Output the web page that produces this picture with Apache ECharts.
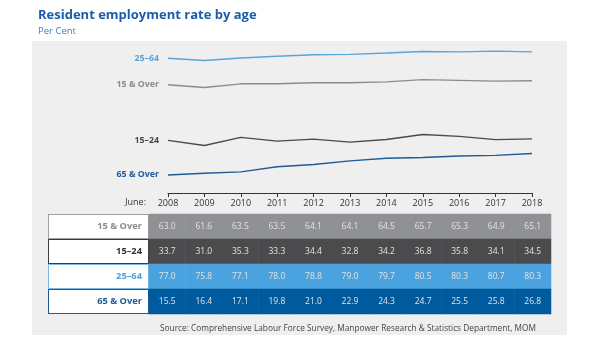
<!DOCTYPE html>
<html>
<head>
<meta charset="utf-8">
<style>html,body{margin:0;padding:0;background:#fff}#c{width:600px;height:341px}</style>
<script src="https://cdn.jsdelivr.net/npm/echarts@6/dist/echarts.min.js"></script>
</head>
<body>
<div id="c"></div>
<script>
var years = ['2008','2009','2010','2011','2012','2013','2014','2015','2016','2017','2018'];
var rowNames = ['15 & Over','15–24','25–64','65 & Over'];
var lineNames = ['25–64','15 & Over','15–24','65 & Over'];
var over15 = [63.0,61.6,63.5,63.5,64.1,64.1,64.5,65.7,65.3,64.9,65.1];
var age1524 = [33.7,31.0,35.3,33.3,34.4,32.8,34.2,36.8,35.8,34.1,34.5];
var age2564 = [77.0,75.8,77.1,78.0,78.8,79.0,79.7,80.5,80.3,80.7,80.3];
var over65 = [15.5,16.4,17.1,19.8,21.0,22.9,24.3,24.7,25.5,25.8,26.8];

var FONT = 'Open Sans';
var rows = [over15, age1524, age2564, over65];
var rowFill = ['#8f9194','#4b4b4e','#4aa2de','#005a9e'];
var rowBorder = ['#a0a0a0','#3c3c3c','#7cb9e6','#1e5a96'];
var rowText = ['#8c8c8c','#333333','#4aa0dc','#1f5a96'];

var lineSeries = [
  {name: lineNames[0], data: age2564, color: '#5ba4da'},
  {name: lineNames[1], data: over15, color: '#8c8c8c'},
  {name: lineNames[2], data: age1524, color: '#4a4a4a'},
  {name: lineNames[3], data: over65, color: '#1f5a96'}
].map(function (s) {
  return {
    type: 'line', xAxisIndex: 0, yAxisIndex: 0, symbol: 'circle', symbolSize: 0.01, showSymbol: true,
    silent: true, clip: false,
    itemStyle: {color: s.color, borderWidth: 0},
    lineStyle: {color: s.color, width: 1.4},
    label: {show: false},
    data: s.data.map(function (v, i) {
      return i === 0 ? {value: v, label: {show: true, position: 'left', distance: 9, formatter: s.name,
        color: s.color, fontFamily: FONT, fontSize: 8.8, fontWeight: 'bold'}} : v;
    })
  };
});

var heatData = [];
rows.forEach(function (r, ri) {
  r.forEach(function (v, ci) {
    heatData.push({value: [ci, ri, v], itemStyle: {color: rowFill[ri]}});
  });
});

var rich = {};
rowNames.forEach(function (n, i) {
  rich['r' + i] = {width: 93, height: 23, align: 'right', padding: [0, 6, 0, 0],
    backgroundColor: '#ffffff', borderColor: rowBorder[i], borderWidth: 1,
    color: rowText[i], fontFamily: FONT, fontSize: 9.3, fontWeight: 'bold'};
});

var chart = echarts.init(document.getElementById('c'), null, {renderer: 'canvas'});
chart.setOption({
  animation: false,
  backgroundColor: '#ffffff',
  textStyle: {fontFamily: FONT},
  graphic: [{type: 'rect', z: -10, silent: true, shape: {x: 32, y: 41, width: 535, height: 294}, style: {fill: '#efefef'}}],
  title: [
    {text: 'Resident employment rate by age', left: 33, top: 4,
     textStyle: {fontFamily: FONT, fontSize: 13, fontWeight: 'bold', color: '#1a5ea8'}},
    {text: 'Per Cent', left: 33, top: 21,
     textStyle: {fontFamily: FONT, fontSize: 9.5, fontWeight: 'normal', color: '#3f7fc2'}},
    {text: 'Source: Comprehensive Labour Force Survey, Manpower Research & Statistics Department, MOM', right: 59, top: 320,
     textStyle: {fontFamily: FONT, fontSize: 8.3, fontWeight: 'normal', color: '#444444'}}
  ],
  grid: [
    {left: 168, right: 68, top: 43, height: 150},
    {left: 149, right: 49, top: 214, height: 100}
  ],
  xAxis: [
    {type: 'category', gridIndex: 0, data: years, boundaryGap: false,
     name: 'June:', nameLocation: 'start', nameGap: 22,
     nameTextStyle: {fontFamily: FONT, fontSize: 9, color: '#333', verticalAlign: 'top', padding: [5, 0, 0, 0]},
     axisLine: {lineStyle: {color: '#333', width: 1}},
     axisTick: {show: true, length: 4, lineStyle: {color: '#333'}},
     axisLabel: {fontFamily: FONT, fontSize: 9, color: '#333', margin: 6},
     splitLine: {show: false}},
    {type: 'category', gridIndex: 1, data: years, show: false}
  ],
  yAxis: [
    {type: 'value', gridIndex: 0, min: 6, max: 85, show: false, splitLine: {show: false}},
    {type: 'category', gridIndex: 1, data: rowNames, inverse: true,
     axisLine: {show: false}, axisTick: {show: false}, splitLine: {show: false},
     axisLabel: {margin: 1, formatter: function (v, i) { return '{r' + i + '|' + v + '}'; }, rich: rich}}
  ],
  series: lineSeries.concat([{
    type: 'heatmap', xAxisIndex: 1, yAxisIndex: 1, silent: true,
    data: heatData,
    label: {show: true, formatter: function (p) { return p.value[2].toFixed(1); },
      color: '#e2e2e2', fontFamily: FONT, fontSize: 8.5}
  }])
});
</script>
</body>
</html>
